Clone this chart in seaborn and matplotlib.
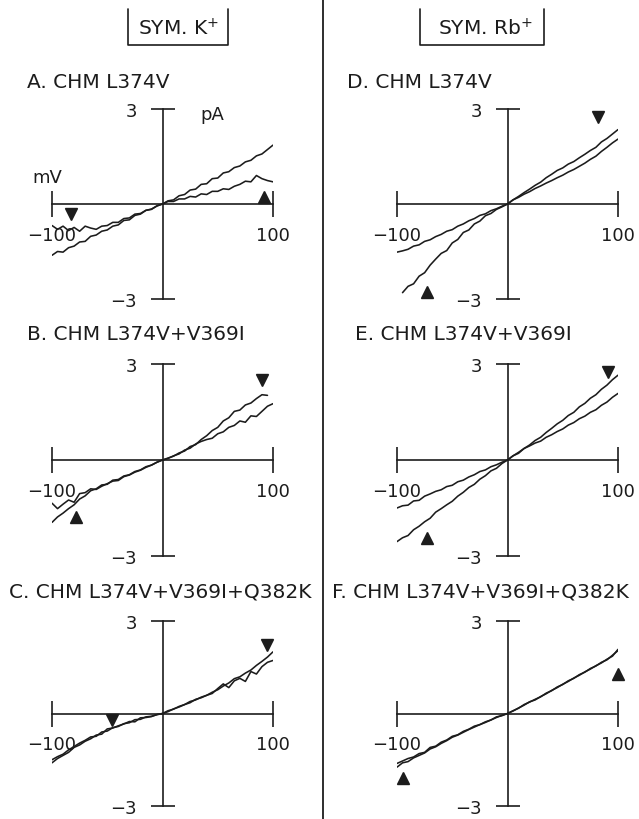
import numpy as np
import pandas as pd
import matplotlib
matplotlib.use("Agg")
import matplotlib.pyplot as plt
from matplotlib.lines import Line2D
import seaborn as sns

# --- DATA (mV vs pA) ---
nan = np.nan
MV = list(range(-100, 105, 5))

A_STEEP = [-1.62, -1.50, -1.52, -1.38, -1.33, -1.20, -1.18, -1.02, -0.98, -0.86, -0.82, -0.70, -0.66, -0.52,
           -0.50, -0.36, -0.32, -0.20, -0.17, -0.06, 0.00, 0.10, 0.13, 0.26, 0.30, 0.44, 0.47, 0.62, 0.64, 0.80,
           0.82, 0.98, 1.02, 1.15, 1.20, 1.33, 1.38, 1.52, 1.58, 1.72, 1.86]
A_FLAT = [-0.68, -0.80, -0.70, -0.84, -0.74, -0.86, -0.70, -0.76, -0.80, -0.70, -0.68, -0.58, -0.58, -0.46,
          -0.44, -0.32, -0.30, -0.20, -0.16, -0.06, 0.00, 0.08, 0.08, 0.16, 0.16, 0.24, 0.22, 0.32, 0.30, 0.40,
          0.40, 0.48, 0.46, 0.56, 0.62, 0.72, 0.70, 0.90, 0.80, 0.74, 0.70]

B_UP = [-1.35, -1.52, -1.38, -1.25, -1.32, -1.05, -1.02, -0.90, -0.92, -0.82, -0.74, -0.66, -0.64, -0.52,
        -0.47, -0.38, -0.32, -0.23, -0.16, -0.07, 0.00, 0.06, 0.12, 0.22, 0.28, 0.42, 0.48, 0.64, 0.76, 0.92,
        1.02, 1.22, 1.32, 1.52, 1.56, 1.72, 1.78, 1.92, 2.04, 2.02, nan]
B_LOW = [-1.95, -1.78, -1.66, -1.52, -1.40, -1.22, -1.12, -0.96, -0.90, -0.78, -0.76, -0.63, -0.61, -0.50,
         -0.46, -0.36, -0.31, -0.21, -0.16, -0.07, 0.00, 0.05, 0.13, 0.19, 0.31, 0.37, 0.50, 0.58, 0.64, 0.68,
         0.82, 0.88, 1.02, 1.08, 1.22, 1.18, 1.38, 1.36, 1.52, 1.68, 1.76]

C_UP = [-1.50, -1.40, -1.32, -1.18, -1.07, -0.96, -0.87, -0.76, -0.74, -0.60, -0.57, -0.46, -0.42, -0.33,
        -0.30, -0.20, -0.19, -0.11, -0.09, -0.04, 0.00, 0.09, 0.14, 0.23, 0.29, 0.39, 0.44, 0.53, 0.59, 0.69,
        0.77, 0.89, 0.99, 1.13, 1.19, 1.31, 1.41, 1.56, 1.69, 1.83, 2.00]
C_LOW = [-1.60, -1.46, -1.36, -1.26, -1.10, -1.02, -0.90, -0.82, -0.70, -0.67, -0.50, -0.47, -0.40, -0.34,
         -0.26, -0.27, -0.14, -0.13, -0.10, -0.03, 0.00, 0.06, 0.15, 0.21, 0.29, 0.35, 0.46, 0.51, 0.59, 0.65,
         0.81, 0.96, 0.84, 1.06, 1.14, 1.04, 1.36, 1.28, 1.52, 1.66, 1.72]

D_STEEP = [nan, -2.80, -2.60, -2.52, -2.28, -2.17, -1.93, -1.74, -1.56, -1.47, -1.23, -1.12, -0.90, -0.82,
           -0.63, -0.54, -0.37, -0.30, -0.17, -0.09, 0.00, 0.13, 0.21, 0.31, 0.39, 0.49, 0.57, 0.66, 0.74, 0.83,
           0.91, 1.01, 1.09, 1.19, 1.29, 1.41, 1.51, 1.66, 1.79, 1.93, 2.05]
D_FLAT = [-1.52, -1.48, -1.43, -1.33, -1.29, -1.18, -1.13, -1.03, -0.96, -0.86, -0.81, -0.70, -0.63, -0.53,
          -0.46, -0.36, -0.31, -0.21, -0.15, -0.07, 0.00, 0.13, 0.24, 0.36, 0.47, 0.59, 0.69, 0.83, 0.94, 1.06,
          1.14, 1.26, 1.34, 1.46, 1.57, 1.69, 1.79, 1.96, 2.07, 2.21, 2.35]

E_STEEP = [-2.55, -2.43, -2.36, -2.18, -2.07, -1.93, -1.82, -1.63, -1.52, -1.40, -1.29, -1.13, -1.01, -0.86,
           -0.76, -0.60, -0.49, -0.34, -0.26, -0.11, 0.00, 0.13, 0.24, 0.36, 0.44, 0.53, 0.59, 0.71, 0.79, 0.89,
           0.97, 1.09, 1.17, 1.29, 1.37, 1.49, 1.57, 1.71, 1.81, 1.96, 2.08]
E_FLAT = [-1.50, -1.43, -1.41, -1.28, -1.26, -1.13, -1.06, -0.98, -0.93, -0.83, -0.79, -0.68, -0.63, -0.53,
          -0.46, -0.36, -0.31, -0.21, -0.15, -0.07, 0.00, 0.13, 0.21, 0.36, 0.47, 0.61, 0.71, 0.86, 0.99, 1.13,
          1.24, 1.39, 1.49, 1.66, 1.77, 1.93, 2.04, 2.21, 2.34, 2.51, 2.65]

F_UP = [-1.62, -1.54, -1.46, -1.41, -1.30, -1.26, -1.10, -1.06, -0.93, -0.86, -0.74, -0.69, -0.58, -0.51,
        -0.41, -0.36, -0.27, -0.21, -0.11, -0.07, 0.00, 0.09, 0.17, 0.29, 0.37, 0.46, 0.54, 0.66, 0.74, 0.86,
        0.94, 1.06, 1.14, 1.26, 1.34, 1.46, 1.54, 1.66, 1.74, 1.89, 2.04]
F_LOW = [-1.74, -1.60, -1.56, -1.44, -1.36, -1.28, -1.15, -1.08, -0.97, -0.88, -0.77, -0.70, -0.61, -0.52,
         -0.44, -0.36, -0.29, -0.21, -0.13, -0.06, 0.00, 0.08, 0.18, 0.27, 0.38, 0.44, 0.55, 0.64, 0.75, 0.84,
         0.95, 1.04, 1.15, 1.24, 1.35, 1.44, 1.55, 1.64, 1.76, 1.86, 2.08]

PANELS = ["A", "B", "C", "D", "E", "F"]
TITLES = ["A. CHM L374V", "B. CHM L374V+V369I", "C. CHM L374V+V369I+Q382K",
          "D. CHM L374V", "E. CHM L374V+V369I", "F. CHM L374V+V369I+Q382K"]
TRACES = {"A": [A_STEEP, A_FLAT], "B": [B_UP, B_LOW], "C": [C_UP, C_LOW],
          "D": [D_STEEP, D_FLAT], "E": [E_STEEP, E_FLAT], "F": [F_UP, F_LOW]}

# triangle markers: (panel, symbol, mV, pA)
MARK_PANEL = ["A", "A", "B", "B", "C", "C", "D", "D", "E", "E", "F", "F"]
MARK_SYM = ["v", "^", "v", "^", "v", "v", "v", "^", "v", "^", "^", "^"]
MARK_X = [-83, 92, 90, -78, 95, -46, 82, -73, 91, -73, 100, -95]
MARK_Y = [-0.30, 0.22, 2.50, -1.77, 2.23, -0.22, 2.74, -2.79, 2.74, -2.43, 1.28, -2.08]

X_TICKS = [-100, 100]
Y_TICKS = [-3, 3]
HEADERS = ["SYM. K$^{+}$", "SYM. Rb$^{+}$"]

# --- LONG TABLE ---
rows = []
for p in PANELS:
    for i, tr in enumerate(TRACES[p]):
        for mv, pa in zip(MV, tr):
            rows.append({"panel": p, "trace": i, "mV": mv, "pA": pa})
df = pd.DataFrame(rows).dropna()

# --- FIGURE ---
sns.set_style("white")
plt.rcParams["font.family"] = ["DejaVu Sans"]
INK = "#1c1c1c"

W, H = 639, 820
fig = plt.figure(figsize=(W / 100, H / 100), dpi=100)
fig.patch.set_facecolor("white")

# axes boxes in pixels: left, right, top(3 pA), bottom(-3 pA)
BOX = {"A": (52, 273, 110, 300), "B": (52, 273, 365, 557), "C": (52, 273, 622, 807),
       "D": (397, 618, 110, 300), "E": (397, 618, 365, 557), "F": (397, 618, 622, 807)}
TITLE_POS = {"A": (27, 82), "B": (27, 335), "C": (9, 592),
             "D": (347, 82), "E": (355, 335), "F": (332, 592)}


def px(x, y):
    return x / W, 1 - y / H


for p, title in zip(PANELS, TITLES):
    l, r, t, b = BOX[p]
    ax = fig.add_axes([l / W, 1 - b / H, (r - l) / W, (b - t) / H])
    ax.patch.set_alpha(0)
    sub = df[df.panel == p]
    sns.lineplot(data=sub, x="mV", y="pA", units="trace", estimator=None, sort=False,
                 color=INK, lw=1.15, ax=ax, legend=False)
    for pp, s, mx, my in zip(MARK_PANEL, MARK_SYM, MARK_X, MARK_Y):
        if pp == p:
            ax.plot(mx, my, marker=s, ms=9, color=INK, mec=INK, clip_on=False)

    ax.set_xlim(-100, 100)
    ax.set_ylim(-3, 3)
    for s in ["top", "right"]:
        ax.spines[s].set_visible(False)
    for s in ["left", "bottom"]:
        ax.spines[s].set_position(("data", 0))
        ax.spines[s].set_linewidth(1.2)
        ax.spines[s].set_color(INK)
    ax.set_xticks(X_TICKS)
    ax.set_xticklabels([f"\u2212{abs(v)}" if v < 0 else str(v) for v in X_TICKS])
    ax.set_yticks(Y_TICKS)
    ax.set_yticklabels([f"\u2212{abs(v)}" if v < 0 else str(v) for v in Y_TICKS])
    ax.tick_params(axis="x", bottom=True, direction="inout", length=19, width=1.2, pad=6,
                   labelsize=13, colors=INK)
    ax.tick_params(axis="y", left=True, direction="inout", length=17, width=1.2, pad=10,
                   labelsize=13, colors=INK)
    ax.set_xlabel("")
    ax.set_ylabel("")

    if p == "A":
        ax.text(200 / W, 1 - 115 / H, "pA", transform=fig.transFigure, fontsize=13,
                color=INK, ha="left", va="center")
        ax.text(47 / W, 1 - 178 / H, "mV", transform=fig.transFigure, fontsize=13,
                color=INK, ha="center", va="center")

    tx, ty = TITLE_POS[p]
    fig.text(*px(tx, ty), title, fontsize=14.5, color=INK, ha="left", va="center")

# header boxes (open at the top) and column divider
for (l, r, cx), label in zip([(128, 228, 178), (420, 544, 485)], HEADERS):
    xs = [l, l, r, r]
    ys = [10, 46, 46, 10]
    fig.add_artist(Line2D([x / W for x in xs], [1 - y / H for y in ys],
                          transform=fig.transFigure, color=INK, lw=1.2))
    fig.text(*px(cx, 29), label, fontsize=14.5, color=INK, ha="center", va="center")

fig.add_artist(Line2D([323 / W, 323 / W], [0, 1], transform=fig.transFigure, color=INK, lw=1.3))

plt.savefig("out.png", dpi=100)
